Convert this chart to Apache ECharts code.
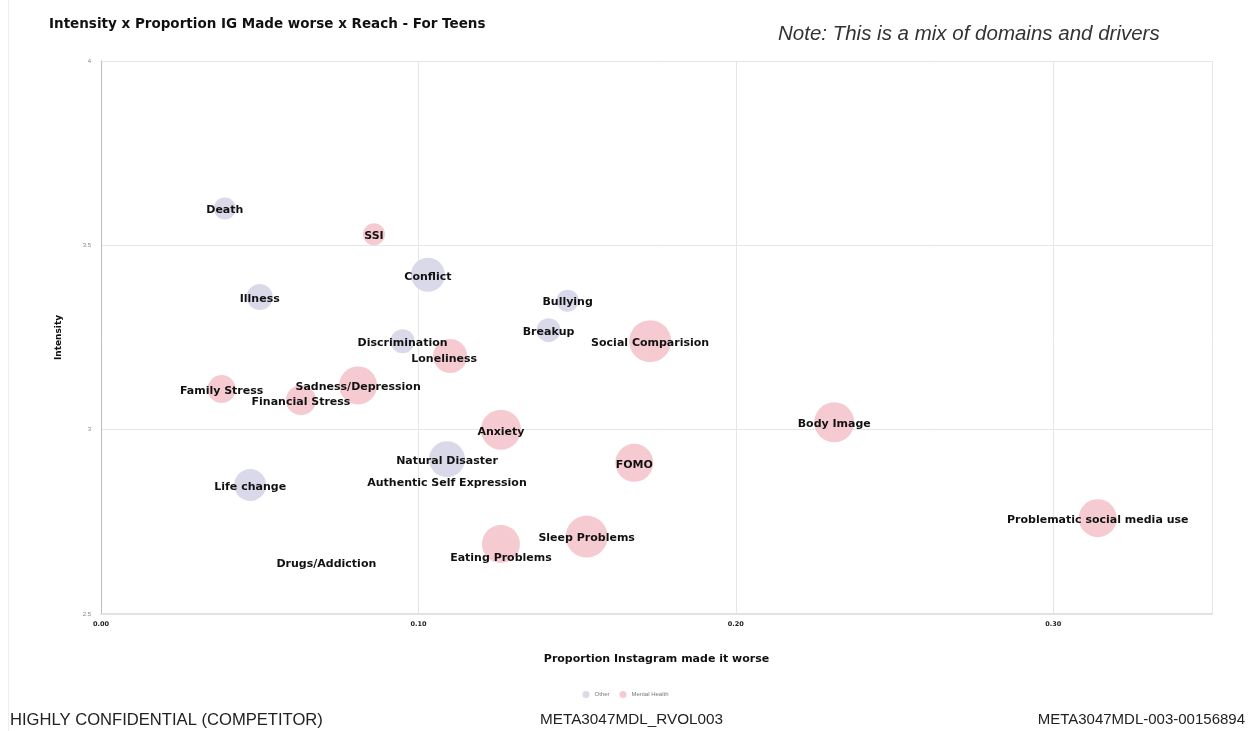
<!DOCTYPE html>
<html>
<head>
<meta charset="utf-8">
<script src="https://cdn.jsdelivr.net/npm/echarts@6/dist/echarts.min.js"></script>
<style>
  html, body { margin: 0; padding: 0; background: #fff; }
  #chart { width: 1251px; height: 731px; }
</style>
</head>
<body>
<div id="chart"></div>
<script>
// ---- Data ----
const topics = ['Death', 'SSI', 'Conflict', 'Illness', 'Discrimination', 'Loneliness',
  'Family Stress', 'Financial Stress', 'Sadness/Depression', 'Bullying', 'Breakup',
  'Social Comparision', 'Anxiety', 'FOMO', 'Natural Disaster', 'Authentic Self Expression',
  'Life change', 'Drugs/Addiction', 'Eating Problems', 'Sleep Problems', 'Body Image',
  'Problematic social media use'];
const domains = ['Other', 'Mental Health', 'Other', 'Other', 'Other', 'Mental Health',
  'Mental Health', 'Mental Health', 'Mental Health', 'Other', 'Other',
  'Mental Health', 'Mental Health', 'Mental Health', 'Other', 'Other',
  'Other', 'Other', 'Mental Health', 'Mental Health', 'Mental Health',
  'Mental Health'];
const proportionWorse = [0.039, 0.086, 0.103, 0.050, 0.095, 0.110,
  0.038, 0.063, 0.081, 0.147, 0.141,
  0.173, 0.126, 0.168, 0.109, 0.109,
  0.047, 0.071, 0.126, 0.153, 0.231,
  0.314];
const intensity = [3.60, 3.53, 3.42, 3.36, 3.24, 3.20,
  3.11, 3.08, 3.12, 3.35, 3.27,
  3.24, 3.00, 2.91, 2.92, 2.86,
  2.85, 2.64, 2.69, 2.71, 3.02,
  2.76];
const reach = [22, 22, 34, 26, 24, 34,
  28, 30, 38, 22, 24,
  42, 40, 38, 36, 2,
  32, 2, 38, 42, 40,
  38];
const domainNames = ['Other', 'Mental Health'];
const xTicks = ['0.00', '0.10', '0.20', '0.30'];
const yTicks = ['2.5', '3', '3.5', '4'];

// label nudges for overlapping labels (style only)
const labelNudge = { 'Eating Problems': [0, 14], 'Loneliness': [-6, 3] };

const colors = { 'Other': '#d9d9ea', 'Mental Health': '#f5cbd1' };
const boldFont = '"DejaVu Sans", Verdana, sans-serif';

const series = domainNames.map(dom => ({
  name: dom,
  type: 'scatter',
  itemStyle: { color: colors[dom], opacity: 1 },
  symbolSize: d => d[2],
  label: {
    show: true, position: 'inside', offset: [0, 2], formatter: p => p.data.name,
    color: '#111', fontWeight: 'bold', fontSize: 11, fontFamily: boldFont
  },
  emphasis: { disabled: true },
  data: topics.map((t, i) => ({ t, i })).filter(o => domains[o.i] === dom).map(o => {
    const item = { name: o.t, value: [proportionWorse[o.i], intensity[o.i], reach[o.i]] };
    if (labelNudge[o.t]) item.label = { offset: labelNudge[o.t] };
    return item;
  })
}));

const chart = echarts.init(document.getElementById('chart'), null, { renderer: 'canvas' });
chart.setOption({
  backgroundColor: '#fff',
  animation: false,
  title: {
    text: 'Intensity x Proportion IG Made worse x Reach - For Teens',
    left: 44, top: 12,
    textStyle: { fontSize: 13.5, fontWeight: 'bold', color: '#111', fontFamily: boldFont }
  },
  color: [colors['Other'], colors['Mental Health']],
  legend: {
    data: domainNames,
    bottom: 28, left: 'center',
    itemWidth: 7, itemHeight: 7, itemGap: 10,
    icon: 'circle',
    textStyle: { fontSize: 6, color: '#777' }
  },
  grid: { left: 101, right: 39, top: 61, bottom: 117 },
  xAxis: {
    type: 'value', min: 0, max: 0.35, interval: 0.1,
    name: 'Proportion Instagram made it worse', nameLocation: 'middle', nameGap: 40,
    nameTextStyle: { fontSize: 11, fontWeight: 'bold', color: '#111', fontFamily: boldFont },
    axisLine: { show: true, lineStyle: { color: '#e3e3e3', width: 2 } },
    axisTick: { show: false },
    axisLabel: {
      fontSize: 6.5, fontWeight: 'bold', color: '#222', margin: 7, fontFamily: boldFont,
      formatter: v => { const k = Math.round(v * 10); return k < xTicks.length ? xTicks[k] : ''; }
    },
    splitLine: { show: true, lineStyle: { color: '#e6e6e6', width: 1 } }
  },
  yAxis: {
    type: 'value', min: 2.5, max: 4, interval: 0.5,
    name: 'Intensity', nameLocation: 'middle', nameGap: 38, nameRotate: 90,
    nameTextStyle: { fontSize: 9, fontWeight: 'bold', color: '#111', fontFamily: boldFont },
    axisLine: { show: true, lineStyle: { color: '#bdbdbd', width: 1 } },
    axisTick: { show: false },
    axisLabel: {
      fontSize: 6, color: '#888', margin: 10,
      formatter: v => yTicks[Math.round((v - 2.5) * 2)]
    },
    splitLine: { show: true, lineStyle: { color: '#e6e6e6', width: 1 } }
  },
  graphic: [
    { type: 'text', left: 778, top: 24,
      style: { text: 'Note: This is a mix of domains and drivers', font: 'italic 20.5px "Liberation Sans", Arial, sans-serif', fill: '#333' } },
    { type: 'text', left: 10, top: 712,
      style: { text: 'HIGHLY CONFIDENTIAL (COMPETITOR)', font: '16.6px "Liberation Sans", Arial, sans-serif', fill: '#222' } },
    { type: 'text', left: 540, top: 712,
      style: { text: 'META3047MDL_RVOL003', font: '15.3px "Liberation Sans", Arial, sans-serif', fill: '#222' } },
    { type: 'text', right: 6, top: 712,
      style: { text: 'META3047MDL-003-00156894', font: '15px "Liberation Sans", Arial, sans-serif', fill: '#222' } },
    { type: 'line', shape: { x1: 8.5, y1: 0, x2: 8.5, y2: 731 }, style: { stroke: '#eeeeee', lineWidth: 1 } }
  ],
  series: series
});
</script>
</body>
</html>
